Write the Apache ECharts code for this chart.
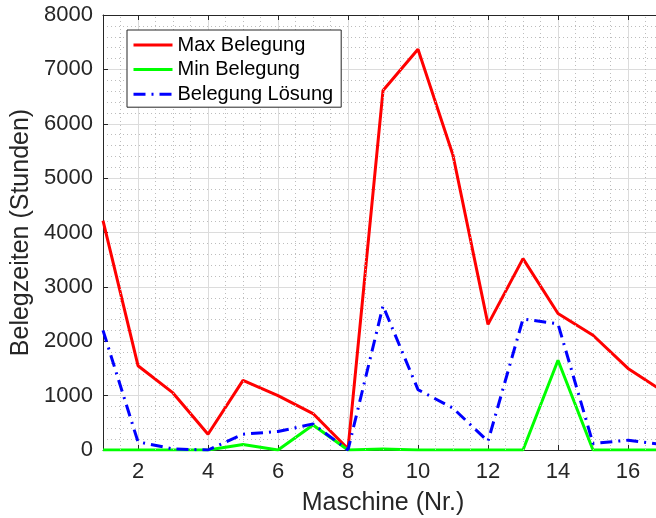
<!DOCTYPE html>
<html>
<head>
<meta charset="utf-8">
<script src="https://cdn.jsdelivr.net/npm/echarts@6/dist/echarts.min.js"></script>
<style>
  html, body { margin: 0; padding: 0; background: #fff; }
  #chart { width: 656px; height: 518px; }
</style>
</head>
<body>
<div id="chart"></div>
<script>
// Belegzeiten je Maschine
const machines = [1, 2, 3, 4, 5, 6, 7, 8, 9, 10, 11, 12, 13, 14, 15, 16, 17];
const maxBelegung = [4220, 1550, 1050, 290, 1280, 1000, 670, 20, 6610, 7370, 5420, 2310, 3520, 2510, 2110, 1500, 1080];
const minBelegung = [0, 0, 0, 0, 100, 0, 460, 0, 20, 0, 0, 0, 0, 1650, 0, 0, 0];
const belegungLoesung = [2200, 150, 20, 0, 290, 340, 480, 0, 2650, 1110, 770, 160, 2410, 2320, 120, 180, 100];
const xTickLabels = [2, 4, 6, 8, 10, 12, 14, 16];
const yTickLabels = [0, 1000, 2000, 3000, 4000, 5000, 6000, 7000, 8000];

const seriesNames = ['Max Belegung', 'Min Belegung', 'Belegung Lösung'];

const FONT = '"Liberation Sans", Arial, Helvetica, sans-serif';
const TXT = '#262626';
const AXIS = '#262626';
const MAJOR = '#dcdcdc';
const MINOR = '#bdbdbd';

const pairs = vals => machines.map((m, i) => [m, vals[i]]);

// dotted minor grid along x, every half unit between the labelled ticks
const minorX = [];
for (let v = 1.5; v < 17; v += 0.5) {
  if (v % 2 !== 0) minorX.push({ xAxis: v });
}

const chart = echarts.init(document.getElementById('chart'), null, { renderer: 'canvas' });

const option = {
  backgroundColor: '#ffffff',
  animation: false,
  textStyle: { fontFamily: FONT, color: TXT },
  // the axes box runs past the right edge of the canvas
  grid: { left: 103, width: 560, top: 15, bottom: 68, containLabel: false, outerBoundsMode: 'none' },
  legend: {
    orient: 'vertical',
    left: 127,
    top: 30,
    z: 20,
    padding: [5, 8, 3, 5],
    itemGap: 4.6,
    itemWidth: 39,
    itemHeight: 14,
    backgroundColor: '#ffffff',
    borderColor: '#262626',
    borderWidth: 1,
    itemStyle: { color: 'rgba(0,0,0,0)', borderColor: 'rgba(0,0,0,0)', borderWidth: 0, opacity: 0 },
    lineStyle: { width: 3 },
    data: seriesNames,
    textStyle: { fontFamily: FONT, fontSize: 20, color: '#000', lineHeight: 20 }
  },
  xAxis: [
    {
      type: 'value',
      position: 'bottom',
      min: 1,
      max: 17,
      name: 'Maschine (Nr.)',
      nameLocation: 'middle',
      nameGap: 41,
      nameTextStyle: { fontFamily: FONT, fontSize: 25, color: TXT },
      axisLine: { show: true, onZero: false, lineStyle: { color: AXIS, width: 1 } },
      axisTick: { show: true, inside: true, length: 5, customValues: xTickLabels, lineStyle: { color: AXIS } },
      axisLabel: { show: true, customValues: xTickLabels, margin: 11, fontFamily: FONT, fontSize: 22, color: TXT },
      splitLine: { show: true, lineStyle: { color: MAJOR, width: 1 } }
    },
    {
      type: 'value',
      position: 'top',
      min: 1,
      max: 17,
      axisLine: { show: true, onZero: false, lineStyle: { color: AXIS, width: 1 } },
      axisTick: { show: true, inside: true, length: 5, customValues: xTickLabels, lineStyle: { color: AXIS } },
      axisLabel: { show: false },
      splitLine: { show: false }
    }
  ],
  yAxis: {
    type: 'value',
    min: 0,
    max: 8000,
    interval: 1000,
    name: 'Belegzeiten (Stunden)',
    nameLocation: 'middle',
    nameGap: 65,
    nameTextStyle: { fontFamily: FONT, fontSize: 25, color: TXT },
    axisLine: { show: true, lineStyle: { color: AXIS, width: 1 } },
    axisTick: { show: true, inside: true, length: 5, lineStyle: { color: AXIS } },
    axisLabel: { margin: 10, fontFamily: FONT, fontSize: 22, color: TXT,
      formatter: v => (yTickLabels.indexOf(v) >= 0 ? String(v) : '') },
    splitLine: { show: true, lineStyle: { color: MAJOR, width: 1 } },
    minorTick: { show: false, splitNumber: 5 },
    minorSplitLine: { show: true, lineStyle: { color: MINOR, width: 1, type: [1, 3] } }
  },
  series: [
    {
      name: '_minorGridX',
      type: 'line',
      data: [],
      z: 1,
      silent: true,
      markLine: {
        silent: true,
        symbol: 'none',
        label: { show: false },
        lineStyle: { color: MINOR, width: 1, type: [1, 3] },
        data: minorX
      }
    },
    {
      name: seriesNames[0],
      type: 'line',
      data: pairs(maxBelegung),
      symbol: 'none',
      z: 3,
      lineStyle: { color: '#ff0000', width: 3 },
      itemStyle: { color: '#ff0000' }
    },
    {
      name: seriesNames[1],
      type: 'line',
      data: pairs(minBelegung),
      symbol: 'none',
      z: 4,
      lineStyle: { color: '#00ff00', width: 3 },
      itemStyle: { color: '#00ff00' }
    },
    {
      name: seriesNames[2],
      type: 'line',
      data: pairs(belegungLoesung),
      symbol: 'none',
      z: 5,
      lineStyle: { color: '#0000ff', width: 3, type: [12, 6, 2, 6] },
      itemStyle: { color: '#0000ff' }
    }
  ]
};

chart.setOption(option);
</script>
</body>
</html>
